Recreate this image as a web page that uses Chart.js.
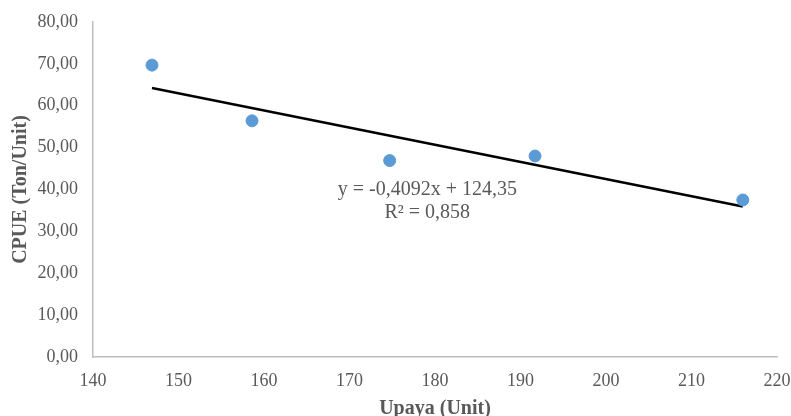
<!DOCTYPE html>
<html>
<head>
<meta charset="utf-8">
<script src="https://cdn.jsdelivr.net/npm/chart.js@4/dist/chart.umd.min.js"></script>
<style>
  html, body { margin: 0; padding: 0; background: #fff; }
  #wrap { width: 791px; height: 416px; }
</style>
</head>
<body>
<div id="wrap"><canvas id="cpueChart" width="791" height="416"></canvas></div>
<script>
// Data
const effort = [146.9, 158.6, 174.7, 191.7, 216.0];
const cpue = [69.7, 56.4, 46.9, 48.0, 37.5];
const xTicks = [140, 150, 160, 170, 180, 190, 200, 210, 220];
const yTicks = [0, 10, 20, 30, 40, 50, 60, 70, 80];

// Trendline as printed on the chart
const slope = -0.4092;
const intercept = 124.35;
const eqLines = ["y = -0,4092x + 124,35", "R\u00B2 = 0,858"];
const eqAnchor = { x: 179.1, y: 39.9 };

const grey = "#595959";
const serif = "'Liberation Serif', 'Times New Roman', serif";

const xMin = Math.min(...effort);
const xMax = Math.max(...effort);
const trend = [
  { x: xMin, y: slope * xMin + intercept },
  { x: xMax, y: slope * xMax + intercept },
];

const fmt = (v) => v.toFixed(2).replace(".", ",");

const equationLabel = {
  id: "equationLabel",
  afterDatasetsDraw(chart) {
    const { ctx, scales } = chart;
    const px = scales.x.getPixelForValue(eqAnchor.x);
    const py = scales.y.getPixelForValue(eqAnchor.y);
    ctx.save();
    ctx.fillStyle = grey;
    ctx.font = "20px " + serif;
    ctx.textAlign = "center";
    ctx.textBaseline = "middle";
    ctx.fillText(eqLines[0], px, py);
    ctx.fillText(eqLines[1], px, py + 23);
    ctx.restore();
  },
};

const ctx = document.getElementById("cpueChart").getContext("2d");
new Chart(ctx, {
  type: "scatter",
  data: {
    datasets: [
      {
        label: "CPUE",
        data: effort.map((x, i) => ({ x: x, y: cpue[i] })),
        backgroundColor: "#5b9bd5",
        borderColor: "#5b9bd5",
        pointRadius: 6,
        pointHoverRadius: 6,
      },
      {
        label: "Linear",
        type: "line",
        data: trend,
        borderColor: "#000000",
        borderWidth: 2.5,
        pointRadius: 0,
        fill: false,
      },
    ],
  },
  options: {
    responsive: false,
    animation: false,
    layout: { padding: { top: 22, right: 14, left: 0, bottom: 0 } },
    plugins: {
      legend: { display: false },
      tooltip: { enabled: false },
    },
    scales: {
      x: {
        type: "linear",
        min: 140,
        max: 220,
        afterBuildTicks: (axis) => { axis.ticks = xTicks.map((v) => ({ value: v })); },
        afterFit: (axis) => {
          axis.height = 59;
          axis.paddingLeft = 0;
          axis.paddingRight = 0;
        },
        grid: { display: false, drawTicks: false },
        border: { color: "#bfbfbf", width: 1.5 },
        ticks: { color: grey, font: { family: serif, size: 18 }, padding: 13 },
        title: {
          display: true,
          text: "Upaya (Unit)",
          color: grey,
          font: { family: serif, size: 20, weight: "bold" },
          padding: { top: 0, bottom: -5 },
        },
      },
      y: {
        type: "linear",
        min: 0,
        max: 80,
        afterBuildTicks: (axis) => { axis.ticks = yTicks.map((v) => ({ value: v })); },
        afterFit: (axis) => {
          axis.width = 93;
          axis.paddingTop = 0;
          axis.paddingBottom = 0;
        },
        grid: { display: false, drawTicks: false },
        border: { color: "#bfbfbf", width: 1.5 },
        ticks: {
          color: grey,
          font: { family: serif, size: 18 },
          padding: 15,
          callback: (v) => fmt(v),
        },
        title: {
          display: true,
          text: "CPUE (Ton/Unit)",
          color: grey,
          font: { family: serif, size: 20, weight: "bold" },
          padding: { top: 9, bottom: 0 },
        },
      },
    },
  },
  plugins: [equationLabel],
});
</script>
</body>
</html>
